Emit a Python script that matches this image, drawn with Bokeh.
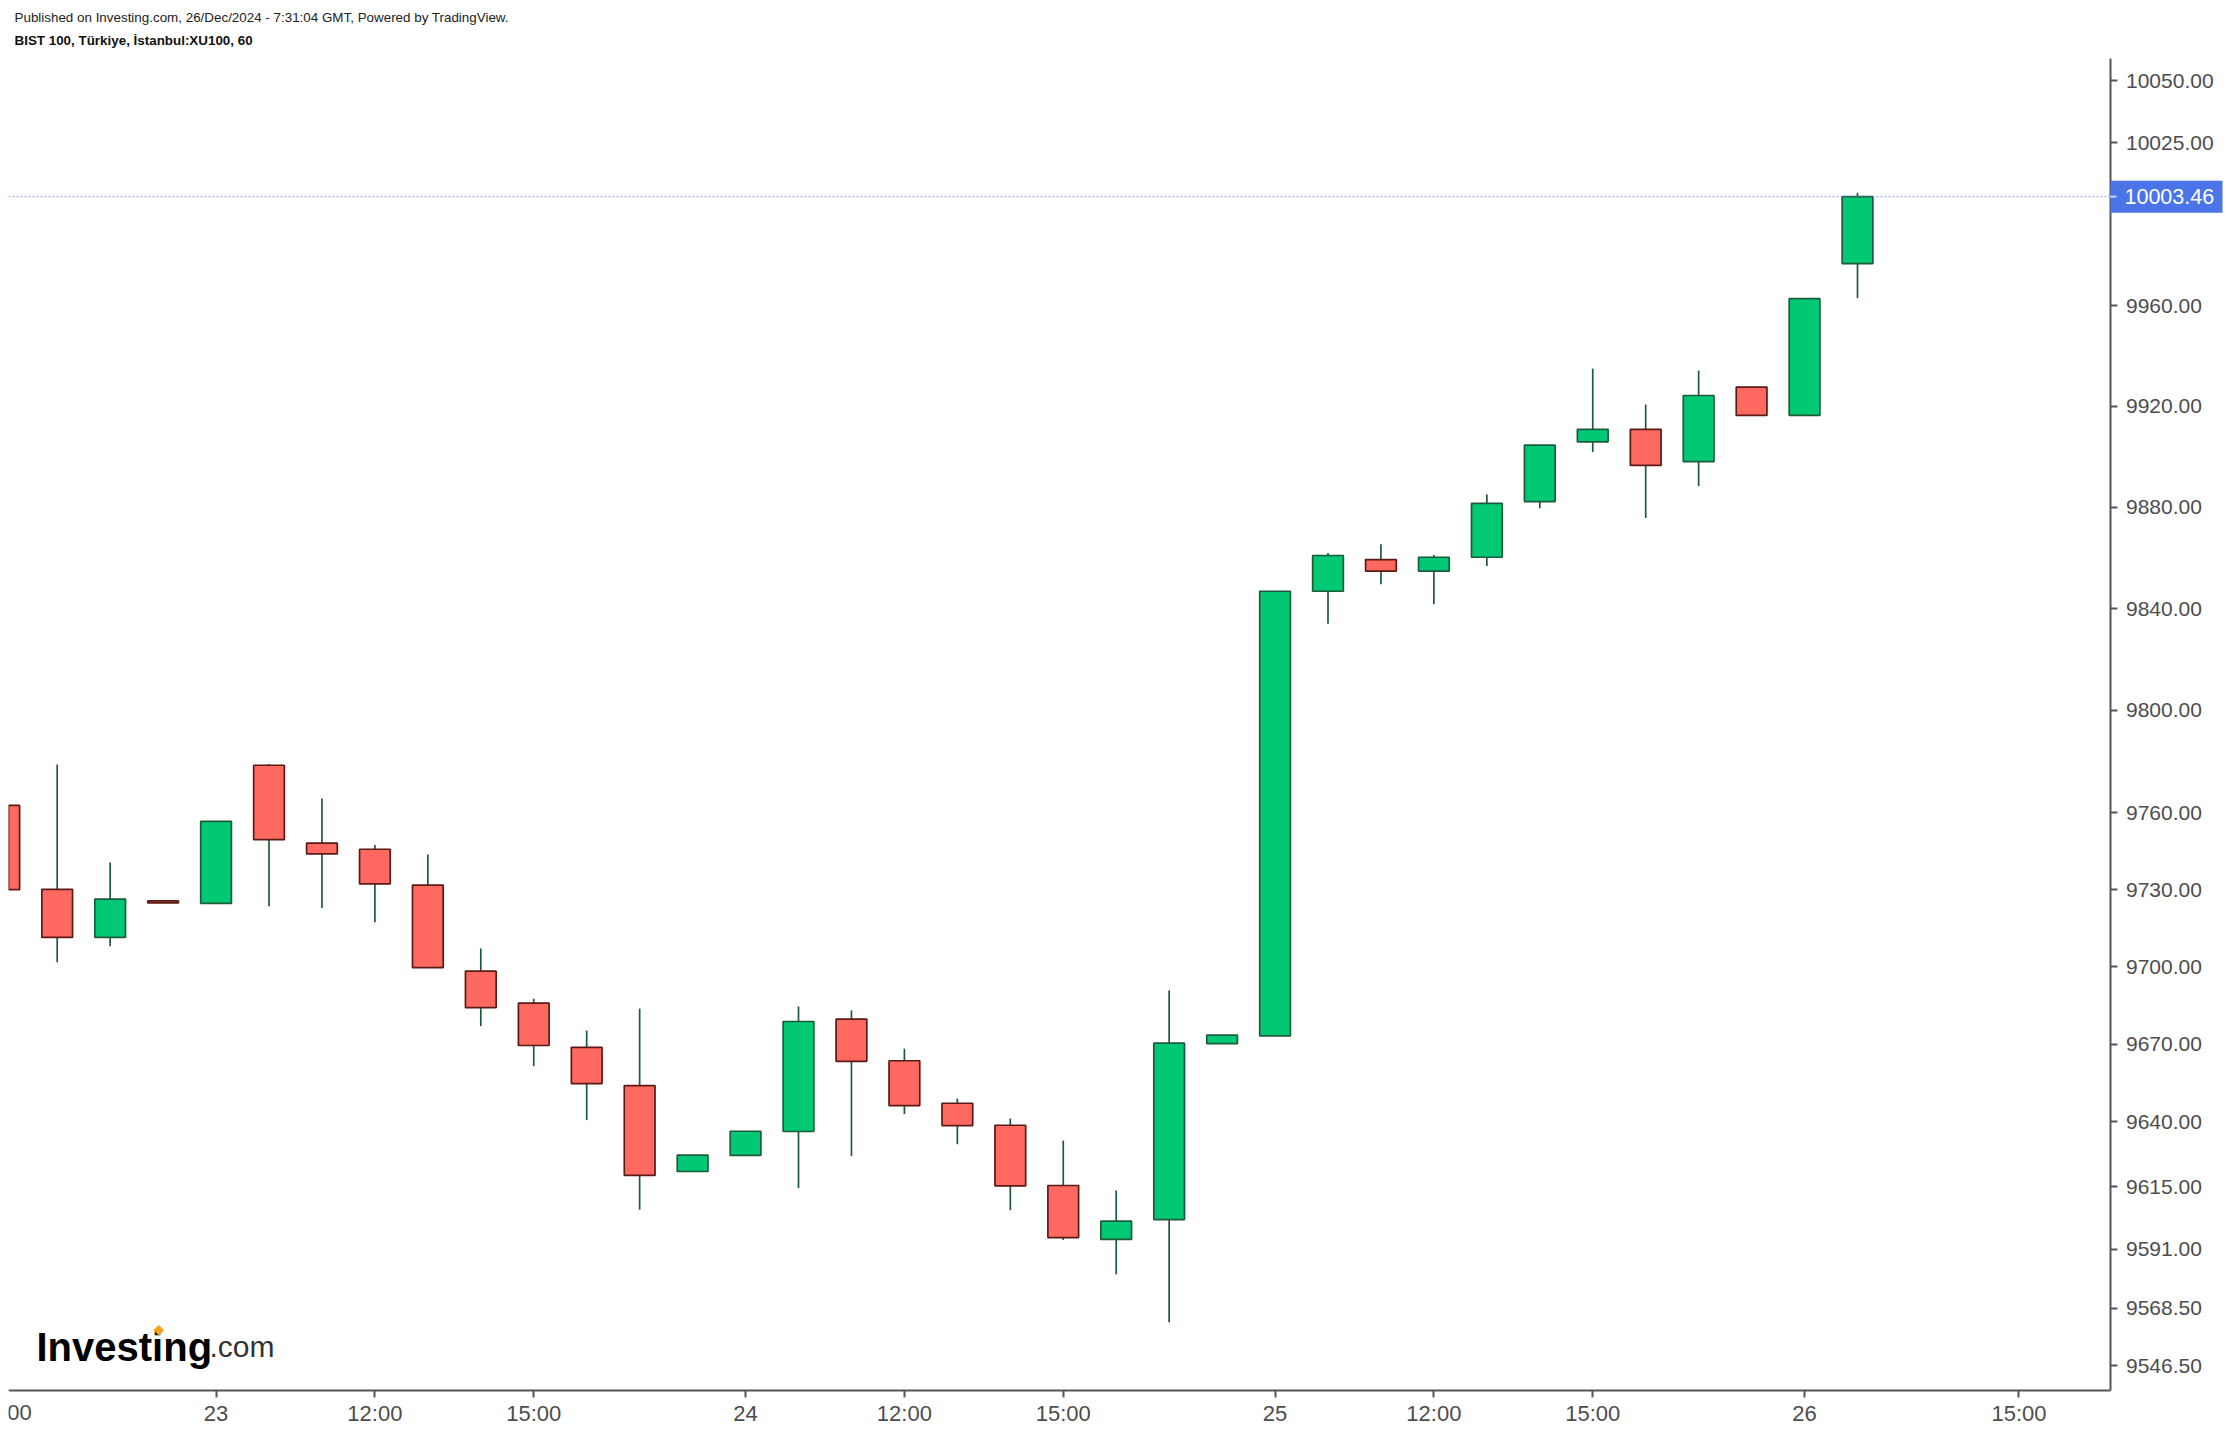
import math
from bokeh.plotting import figure
from bokeh.models import (Range1d, FixedTicker, PrintfTickFormatter, Label,
                          CustomJSTickFormatter, ColumnDataSource)
from bokeh.core.properties import value
from bokeh.embed import file_html
from bokeh.resources import INLINE

# ---- data: hourly bars of BIST 100 (bar index, 0 = 20 Dec 16:00) ----
bar_index = list(range(-1, 35))
opens = [9762.8, 9730.1, 9711.4, 9725.6, 9724.6, 9778.5, 9748.1, 9745.7, 9731.7, 9698.3,
         9685.9, 9668.8, 9654.0, 9620.9, 9627.1, 9636.3, 9679.7, 9663.6, 9647.2, 9638.7,
         9615.5, 9594.8, 9602.4, 9670.2, 9673.2, 9846.8, 9859.3, 9854.7, 9860.2, 9882.2,
         9905.8, 9910.8, 9898.0, 9927.5, 9916.3, 9976.7]
highs = [9762.8, 9778.8, 9740.5, 9725.6, 9756.6, 9779.0, 9765.5, 9747.4, 9743.7, 9707.1,
         9687.6, 9675.3, 9683.8, 9627.2, 9636.4, 9684.6, 9683.1, 9668.3, 9649.0, 9641.3,
         9632.8, 9613.6, 9690.8, 9673.5, 9846.8, 9861.9, 9865.3, 9861.1, 9885.0, 9904.5,
         9934.9, 9920.6, 9934.1, 9927.5, 9962.7, 10005.0]
lows = [9730.0, 9701.8, 9708.0, 9724.8, 9724.6, 9723.5, 9722.8, 9717.3, 9699.7, 9677.0,
        9661.5, 9640.7, 9606.2, 9620.9, 9627.1, 9614.5, 9626.8, 9643.0, 9631.4, 9606.0,
        9594.6, 9581.4, 9563.1, 9670.2, 9673.2, 9834.0, 9849.6, 9841.7, 9856.8, 9879.5,
        9901.8, 9875.7, 9888.3, 9916.3, 9916.3, 9962.9]
closes = [9730.0, 9711.4, 9726.3, 9724.8, 9756.6, 9749.5, 9743.9, 9732.2, 9699.7, 9684.2,
          9669.5, 9654.8, 9619.4, 9627.2, 9636.4, 9678.8, 9663.4, 9646.3, 9638.6, 9615.4,
          9595.5, 9601.8, 9670.4, 9673.5, 9846.8, 9860.9, 9854.7, 9860.2, 9881.5, 9904.5,
          9910.8, 9896.5, 9924.2, 9916.3, 9962.7, 10003.46]
last_price = 10003.46

x_tick_pos = [3, 6, 9, 13, 16, 19, 23, 26, 29, 33, 37.05]
x_tick_labels = ["23", "12:00", "15:00", "24", "12:00", "15:00", "25", "12:00", "15:00", "26", "15:00"]
first_tick_label = "15:00"   # 20 Dec 15:00, at bar -1 (cut off at the left edge)
y_ticks = [9546.5, 9568.5, 9591, 9615, 9640, 9670, 9700, 9730, 9760, 9800, 9840,
           9880, 9920, 9960, 10000, 10025, 10050]

header1 = "Published on Investing.com, 26/Dec/2024 - 7:31:04 GMT, Powered by TradingView."
header2 = "BIST 100, Türkiye, İstanbul:XU100, 60"

# ---- layout constants (canvas px) ----
W, H = 2230, 1434
LEFT = 8                    # clip edge on the left
AX_X, AX_Y, AX_TOP = 2109.5, 1390, 58   # price axis x, time axis y, top of price axis
BAR0_PX, BAR_PX = 56.7, 52.95           # pixel of bar 0 and bar spacing
REF_PX, REF_VAL, PX_PER_LN = 305, 9960.0, 25000.0  # log price scale


def px_to_bar(px):
    return (px - BAR0_PX) / BAR_PX


def px_to_price(py):
    return REF_VAL * math.exp(-(py - REF_PX) / PX_PER_LN)


SANS = "Liberation Sans"
GREEN, GREEN_LINE = "#00c875", "#1e5b3b"
RED, RED_LINE = "#ff6960", "#5b1a15"
AXIS = "#555555"
TAG = "#4a74e8"

p = figure(width=W, height=H, output_backend="svg", toolbar_location=None,
           x_range=Range1d(px_to_bar(LEFT), px_to_bar(W)),
           y_range=Range1d(px_to_price(H), px_to_price(0)),
           y_axis_type="log", y_axis_location="right",
           min_border_left=LEFT, min_border_right=0, min_border_top=0, min_border_bottom=0,
           outline_line_color=None, background_fill_color="white", border_fill_color="white")
p.title.visible = False
p.grid.visible = False

inc = [c >= o for o, c in zip(opens, closes)]
src = ColumnDataSource(dict(
    x=bar_index, high=highs, low=lows,
    top=[max(o, c) for o, c in zip(opens, closes)],
    bottom=[min(o, c) for o, c in zip(opens, closes)],
    fill=[GREEN if i else RED for i in inc],
    line=[GREEN_LINE if i else RED_LINE for i in inc],
))
p.segment(x0="x", y0="low", x1="x", y1="high", source=src, line_color=GREEN_LINE, line_width=1.7)
p.vbar(x="x", width=0.58, top="top", bottom="bottom", source=src,
       fill_color="fill", line_color="line", line_width=1.7)

# last-price dotted line up to the price axis
p.segment(x0=[px_to_bar(LEFT)], x1=[px_to_bar(AX_X)], y0=[last_price], y1=[last_price],
          line_color="#5b82ee", line_alpha=0.7, line_width=1, line_dash="2 2")

# ---- axes (kept at fixed positions inside the canvas) ----
xa = p.xaxis[0]
xa.fixed_location = px_to_price(AX_Y)
xa.bounds = (px_to_bar(LEFT), px_to_bar(AX_X))
xa.ticker = FixedTicker(ticks=x_tick_pos)
xa.formatter = CustomJSTickFormatter(args=dict(pos=x_tick_pos, labs=x_tick_labels), code="""
    for (let i = 0; i < pos.length; i++) { if (Math.abs(pos[i] - tick) < 1e-6) return labs[i]; }
    return "";
""")
ya = p.yaxis[0]
ya.fixed_location = px_to_bar(AX_X)
ya.bounds = (px_to_price(AX_Y), px_to_price(AX_TOP))
ya.ticker = FixedTicker(ticks=y_ticks)
ya.formatter = PrintfTickFormatter(format="%.2f")
for ax in (xa, ya):
    ax.axis_line_color = AXIS
    ax.axis_line_width = 2
    ax.major_tick_line_color = AXIS
    ax.major_tick_line_width = 2
    ax.major_tick_in = 0
    ax.major_tick_out = 7
    ax.minor_tick_line_color = None
    ax.major_label_text_color = "#4d4d4d"
xa.major_label_text_font = SANS
xa.major_label_text_font_size = "22px"
xa.major_label_standoff = 3
ya.major_label_text_font = SANS
ya.major_label_text_font_size = "21px"
ya.major_label_standoff = 9

# ---- last price tag drawn over the price axis labels ----
p.rect(x=[px_to_bar(2166)], y=[last_price], width=112, height=32, width_units="screen",
       height_units="screen", fill_color=TAG, line_color=None, level="overlay")
p.segment(x0=[px_to_bar(AX_X)], x1=[px_to_bar(2116)], y0=[last_price], y1=[last_price],
          line_color="#c9d5fa", line_width=2, level="overlay")
p.text(x=[px_to_bar(2124)], y=[last_price], text=["10003.46"], text_baseline="middle",
       text_align="left", text_font=value(SANS), text_font_size="21.5px", text_color="white",
       level="overlay")


def lab(text, cx, cy, **kw):
    # cx, cy in canvas px -> screen units relative to frame bottom-left
    lbl = Label(x=cx - LEFT, y=H - cy, x_units="screen", y_units="screen", text=text, **kw)
    p.add_layout(lbl)
    return lbl


# first (cut off) time label
lab(first_tick_label, BAR0_PX - BAR_PX, 1412, text_baseline="middle", text_align="center",
    text_font=SANS, text_font_size="22px", text_color="#4d4d4d")

# header
lab(header1, 14, 17, text_baseline="middle", text_font=SANS, text_font_size="13.4px", text_color="#222222")
lab(header2, 14, 40, text_baseline="middle", text_font=SANS, text_font_size="13.4px",
    text_font_style="bold", text_color="#111111")

# logo
lab("Investing", 36, 1346, text_baseline="alphabetic", text_font=SANS, text_font_size="40px",
    text_font_style="bold", text_color="#000000")
lab(".com", 209, 1346, text_baseline="alphabetic", text_font=SANS, text_font_size="30px",
    text_color="#333333")
lab("\u25C6", 158.5, 1328, text_baseline="middle", text_align="center", text_font="DejaVu Sans",
    text_font_size="14px", text_color="#f7a21b")

open("out.html", "w").write(file_html(p, INLINE))
